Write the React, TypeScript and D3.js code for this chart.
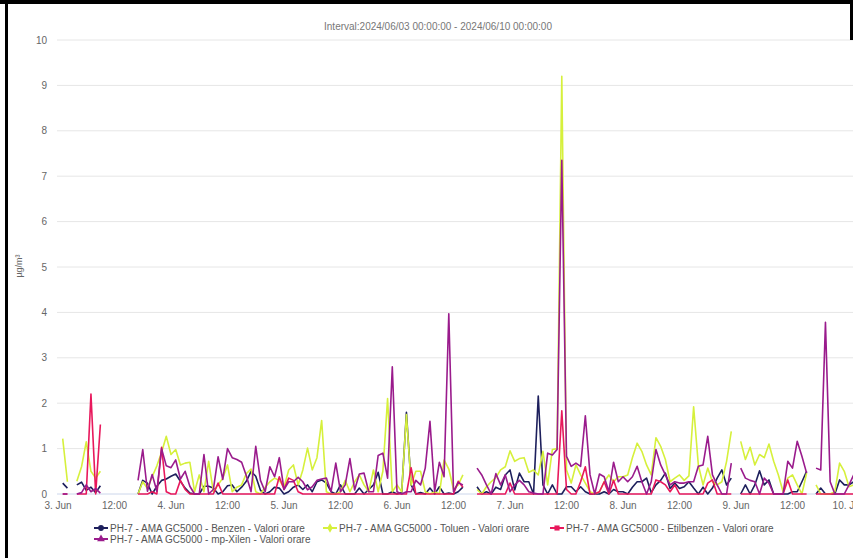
import { useEffect, useRef } from 'react';
import * as d3 from 'd3';

const WIDTH = 853;
const HEIGHT = 558;

const HOUR = 3600 * 1000;
const startTime = Date.UTC(2024, 5, 3);

// hourly values, first entry = 3 Jun 01:00, null = no data
const benzen = [
  0.24, 0.13, null, 0.2, 0.26, 0.08, 0.15, 0.03, 0.18, null, null, null,
  null, null, null, null, 0, 0.3, 0.24, 0, 0.17, 0.3, 0.33, 0.39,
  0.44, 0.28, 0.13, 0.02, 0, 0, 0.17, 0.17, 0.13, 0, 0.05, 0.18,
  0.2, 0.05, 0.15, 0.28, 0.5, 0.39, 0.08, 0, 0.05, 0.15, 0.13, 0,
  0.05, 0.15, 0.2, 0.1, 0.2, 0.05, 0.27, 0.31, 0.24, 0.05, 0, 0.2,
  0, 0, 0, 0.13, 0, 0.1, 0.2, 0.48, 0, 0, 0.05, 0,
  0.03, 1.8, 0.2, 0, 0.03, 0, 0.13, 0, 0.16, 0, 0.02, 0,
  0.05, 0.15, null, null, 0.16, 0, 0.05, 0, 0.15, 0.1, 0.42, 0.53,
  0.09, 0.46, 0.27, 0.27, 0, 2.16, 0.2, 0, 0.2, 0, 0, 0.16,
  0.16, 0.05, 0.16, 0.05, 0, 0, 0, 0.05, 0, 0.1, 0.05, 0.05,
  0, 0.15, 0.27, 0.27, 0.35, 0.03, 0.2, 0.3, 0.46, 0.12, 0.24, 0.12,
  0.16, 0.27, 0.13, 0, 0.15, 0, 0.13, 0.35, 0.53, 0.2, 0.35, null,
  0, 0.2, 0, 0.2, 0.51, 0.2, 0.31, 0, 0, 0, 0, 0.05,
  0.05, 0.27, 0.5, null, 0, 0.13, 0, 0, 0, 0.31, 0.2, 0.2,
  0.27,
];

const toluen = [
  1.22, 0.27, null, 0.28, 0.6, 1.15, 0.5, 0.35, 0.5, null, null, null,
  null, null, null, null, 0, 0.27, 0.12, 0.38, 0.62, 0.92, 1.27, 0.87,
  0.98, 0.64, 0.68, 0.7, 0.05, 0.42, 0.05, 0.72, 0.05, 0.2, 0.35, 0.64,
  0.05, 0.15, 0.2, 0.45, 0.55, 0.05, 0, 0.15, 0.27, 0.35, 0.3, 0.15,
  0.53, 0.64, 0.2, 0.53, 1.01, 0.53, 0.8, 1.62, 0.05, 0, 0, 0.05,
  0.3, 0.05, 0.27, 0.42, 0.2, 0.05, 0.53, 0.05, 0.5, 2.1, 0.05, 0.2,
  0.05, 1.75, 0.2, 0.5, 0.5, 0.05, 0, 0.05, 0, 0.75, 0.55, 0.1,
  0.2, 0.42, null, null, 0.1, 0, 0.16, 0.27, 0.36, 0.53, 0.6, 0.95,
  0.72, 0.78, 0.8, 0.48, 0.53, 0.42, 0.94, 0.2, 0.98, 1.0, 9.2, 0.53,
  0.24, 0.64, 0.42, 0.24, 0.05, 0, 0.05, 0.27, 0.42, 0.27, 0.38, 0.38,
  0.42, 0.8, 1.12, 0.94, 0.64, 0.42, 1.24, 1.05, 0.76, 0.27, 0.35, 0.42,
  0.3, 0.4, 1.92, 0.64, 0.2, 0.57, 0.27, 0.2, 0.27, 0.72, 1.38, null,
  1.16, 0.76, 1.03, 0.64, 0.87, 0.8, 1.1, 0.72, 0.42, 0.05, 0.35, 0.42,
  0.2, 0, 0.46, null, 0.2, 0, 0, 0, 0.05, 0.68, 0.5, 0.16,
  0.2,
];

const etilbenzen = [
  0, 0, null, 0, 0, 0, 2.2, 0, 1.53, null, null, null,
  null, null, null, null, 0, 0, 0, 0.05, 0, 1.03, 0.05, 0,
  0, 0.3, 0.1, 0, 0, 0, 0, 0, 0, 0.24, 0, 0,
  0, 0, 0, 0, 0, 0, 0, 0, 0, 0, 0.38, 0.1,
  0.35, 0.3, 0.05, 0, 0, 0, 0, 0, 0, 0, 0, 0,
  0, 0, 0, 0, 0, 0, 0, 0, 0, 0, 0, 0,
  0, 0, 0.58, 0, 0, 0, 0, 0, 0, 0, 0, 0,
  0.28, 0.15, null, null, 0, 0, 0, 0, 0, 0, 0, 0.24,
  0, 0, 0, 0, 0, 0, 0, 0, 0, 0, 1.83, 0.1,
  0, 0, 0.27, 0.6, 0, 0, 0.05, 0.27, 0, 0.3, 0, 0,
  0, 0, 0, 0, 0, 0, 0.31, 0.27, 0.2, 0.05, 0.2, 0,
  0, 0, 0, 0, 0, 0.24, 0.31, 0, 0, 0, 0, null,
  0, 0, 0, 0, 0, 0, 0, 0, 0, 0, 0.31, 0,
  0, 0, 0, null, 0, 0, 0, 0, 0, 0, 0, 0,
  0,
];

const mpXilen = [
  0, 0, null, 0, 0.03, 0.2, 0.05, 0.12, 0.02, null, null, null,
  null, null, null, null, 0.3, 0.98, 0.06, 0.43, 0.06, 1.0, 0.62, 0.58,
  0.75, 0.33, 0.5, 0.17, 0, 0, 0.87, 0, 0.1, 0.82, 0.32, 1.0,
  0.8, 0.76, 0.7, 0.4, 0.05, 1.05, 0.3, 0.05, 0.6, 0.38, 0.8, 0.1,
  0.27, 0.27, 0.37, 0.27, 0.09, 0.16, 0.3, 0.33, 0.35, 0.05, 0.68, 0.05,
  0.2, 0.78, 0.09, 0.44, 0.46, 0.05, 0.05, 0.85, 0.9, 0.35, 2.8, 0.05,
  0, 0.05, 0.05, 0.3, 0.2, 0.57, 1.6, 0.05, 0.7, 0.38, 3.97, 0.05,
  0.25, 0.2, null, null, 0.57, 0.42, 0.2, 0, 0.45, 0.2, 0.42, 0.05,
  0.2, 0.3, 0.2, 0.05, 0.02, 0, 0, 0.9, 0.86, 0.98, 7.35, 0.83,
  0.61, 0.68, 0.61, 1.72, 0.42, 0, 0.44, 0.38, 0.05, 0.7, 0.27, 0.38,
  0.27, 0.38, 0.61, 0.27, 0, 0.27, 0.98, 0.64, 0.42, 0.2, 0.27, 0.24,
  0.24, 0.27, 0.27, 0.61, 0.64, 1.27, 0.42, 0.2, 0, 0, 0.68, null,
  0.57, 0.35, 0.3, 0.27, 0, 0.35, 0.24, 0, 0, 0, 0.72, 0.57,
  1.16, 0.83, 0.46, null, 0.57, 0.53, 3.78, 0.27, 0, 0, 0, 0.2,
  0.42,
];

const seriesNames = [
  'PH-7 - AMA GC5000 - Benzen - Valori orare',
  'PH-7 - AMA GC5000 - Toluen - Valori orare',
  'PH-7 - AMA GC5000 - Etilbenzen - Valori orare',
  'PH-7 - AMA GC5000 - mp-Xilen - Valori orare',
];
const seriesColors = ['#1d1f5c', '#d6f03c', '#e8185c', '#9a1b8c'];
const seriesSymbols = [d3.symbolCircle, d3.symbolDiamond, d3.symbolSquare, d3.symbolTriangle];

const yTicks = [0, 1, 2, 3, 4, 5, 6, 7, 8, 9, 10];
const xTickLabels = [
  '3. Jun', '12:00', '4. Jun', '12:00', '5. Jun', '12:00', '6. Jun', '12:00',
  '7. Jun', '12:00', '8. Jun', '12:00', '9. Jun', '12:00', '10. Jun',
];

const FONT = '"Liberation Sans", Arial, sans-serif';

export default function App() {
  const svgRef = useRef<SVGSVGElement>(null);

  useEffect(() => {
    if (!svgRef.current) return;
    const svg = d3.select(svgRef.current);
    svg.selectAll('*').remove();

    const x = d3.scaleUtc()
      .domain([new Date(startTime), new Date(startTime + 7 * 24 * HOUR)])
      .range([58, 849]);
    const y = d3.scaleLinear().domain([0, 10]).range([494, 40]);

    svg.append('rect').attr('width', WIDTH).attr('height', HEIGHT).attr('fill', '#fff');

    // grid lines + y labels
    yTicks.forEach(v => {
      if (v > 0) {
        svg.append('line')
          .attr('x1', 57).attr('x2', WIDTH)
          .attr('y1', y(v)).attr('y2', y(v))
          .attr('stroke', '#e6e6e6').attr('stroke-width', 1);
      }
      svg.append('text')
        .attr('x', 47).attr('y', y(v) + 3.5)
        .attr('text-anchor', 'end')
        .style('font-family', FONT).style('font-size', '10px')
        .attr('fill', '#666')
        .text(v);
    });

    svg.append('line')
      .attr('x1', 57).attr('x2', WIDTH)
      .attr('y1', y(0)).attr('y2', y(0))
      .attr('stroke', '#ccd6eb').attr('stroke-width', 1);

    // x labels every 12h
    xTickLabels.forEach((label, i) => {
      svg.append('text')
        .attr('x', x(new Date(startTime + i * 12 * HOUR)))
        .attr('y', 509)
        .attr('text-anchor', 'middle')
        .style('font-family', FONT).style('font-size', '10px')
        .attr('fill', '#666')
        .text(label);
    });

    svg.append('text')
      .attr('transform', `translate(22,266) rotate(-90)`)
      .attr('text-anchor', 'middle')
      .style('font-family', FONT).style('font-size', '9px')
      .attr('fill', '#666')
      .text('µg/m³');

    svg.append('text')
      .attr('x', 438).attr('y', 30)
      .attr('text-anchor', 'middle')
      .style('font-family', FONT).style('font-size', '10px')
      .attr('fill', '#777')
      .text('Interval:2024/06/03 00:00:00 - 2024/06/10 00:00:00');

    // series lines
    const allSeries = [benzen, toluen, etilbenzen, mpXilen];
    const line = d3.line<number | null>()
      .defined(d => d !== null)
      .x((_, i) => x(new Date(startTime + (i + 1) * HOUR)))
      .y(d => y(d as number));

    allSeries.forEach((values, s) => {
      svg.append('path')
        .datum(values)
        .attr('d', line)
        .attr('fill', 'none')
        .attr('stroke', seriesColors[s])
        .attr('stroke-width', 1.6)
        .attr('stroke-linejoin', 'round');
    });

    // legend
    const legendPos = [[94, 528], [323, 528], [550, 528], [94, 539]];
    seriesNames.forEach((name, s) => {
      const [lx, ly] = legendPos[s];
      const g = svg.append('g').attr('transform', `translate(${lx},${ly})`);
      g.append('line')
        .attr('x1', 0).attr('x2', 14).attr('y1', 0).attr('y2', 0)
        .attr('stroke', seriesColors[s]).attr('stroke-width', 2);
      g.append('path')
        .attr('transform', 'translate(7,0)')
        .attr('d', d3.symbol().type(seriesSymbols[s]).size(26)())
        .attr('fill', seriesColors[s]);
      g.append('text')
        .attr('x', 16).attr('y', 3.5)
        .style('font-family', FONT).style('font-size', '10px')
        .attr('fill', '#555')
        .text(name);
    });

    // dark frame of the screenshot
    svg.append('rect').attr('x', 0).attr('y', 0).attr('width', WIDTH).attr('height', 4).attr('fill', '#000');
    svg.append('rect').attr('x', 5).attr('y', 0).attr('width', 3).attr('height', HEIGHT).attr('fill', '#000');
    svg.append('rect').attr('x', 850).attr('y', 0).attr('width', 3).attr('height', 40).attr('fill', '#000');
  }, []);

  return (
    <svg
      ref={svgRef}
      width={WIDTH}
      height={HEIGHT}
      style={{ position: 'absolute', left: 0, top: 0 }}
    />
  );
}
